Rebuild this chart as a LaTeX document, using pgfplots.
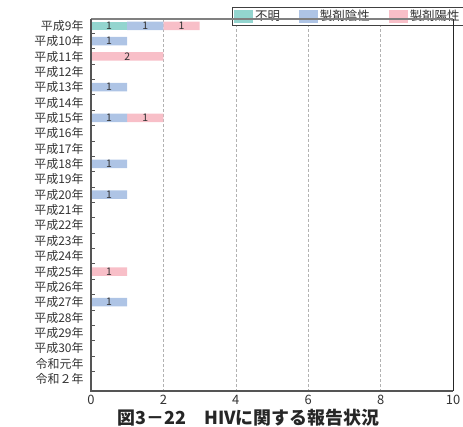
\documentclass[border=0pt]{standalone}
\usepackage{fontspec}
\setmainfont{Noto Sans CJK JP}
\usepackage{pgfplots}
\pgfplotsset{compat=1.18}
\usepackage{pgfplotstable}
\definecolor{cTeal}{HTML}{93D5CF}
\definecolor{cBlue}{HTML}{AEC4E5}
\definecolor{cPink}{HTML}{F8BFC8}
\definecolor{cAxis}{HTML}{555555}
\definecolor{cText}{HTML}{333333}

% counts per year (row index 0 = 平成9年)
\pgfplotstableread{
y a b c
0 1 1 1
1 0 1 0
2 0 0 2
4 0 1 0
6 0 1 1
9 0 1 0
11 0 1 0
16 0 0 1
18 0 1 0
}\datatable

% value labels, centred in their segments
\pgfplotstableread{
x y t
0.5 0 1
1.5 0 1
2.5 0 1
0.5 1 1
1.0 2 2
0.5 4 1
0.5 6 1
1.5 6 1
0.5 9 1
0.5 11 1
0.5 16 1
0.5 18 1
}\labeltable

\pgfplotsset{common/.style={
  scale only axis, width=362bp, height=372bp,
  xmin=0, xmax=10, ymin=-0.44, ymax=23.78, y dir=reverse}}

\begin{document}
\begin{tikzpicture}
\useasboundingbox (-91bp,-36bp) rectangle (372bp,391bp);
\begin{axis}[
  name=ax, common,
  xbar stacked, bar width=8.5bp,
  xtick={0,2,...,10},
  ytick={0,...,23},
  yticklabels={平成9年,平成10年,平成11年,平成12年,平成13年,平成14年,平成15年,平成16年,平成17年,平成18年,平成19年,平成20年,平成21年,平成22年,平成23年,平成24年,平成25年,平成26年,平成27年,平成28年,平成29年,平成30年,令和元年,令和２年},
  minor ytick={0.5,1.5,...,22.5},
  major tick length=0pt, minor tick length=4bp,
  tick align=inside, ytick pos=left, xtick pos=bottom,
  minor tick style={cAxis, line width=0.8bp},
  axis line style={draw=none},
  xmajorgrids, grid style={gray!60, dash pattern=on 3bp off 2bp, line width=0.6bp},
  yticklabel style={font=\fontsize{12}{12}\selectfont, text=cText, xshift=-4bp},
  xticklabel style={font=\fontsize{13}{13}\selectfont, text=cText, yshift=-1bp},
  /pgf/number format/assume math mode=true,
  xlabel={\bfseries 図3－22　HIVに関する報告状況},
  xlabel style={font=\fontsize{18}{18}\selectfont, text=black!85, xshift=-23.5bp, yshift=3bp},
  legend style={at={(1,1)}, anchor=north east, xshift=11bp, yshift=12bp,
    draw=black!75, line width=0.8bp, font=\fontsize{12.5}{12.5}\selectfont, text=cText,
    inner xsep=2bp, inner ysep=1bp, legend columns=3,
    /tikz/every even column/.append style={column sep=17bp}},
  legend image code/.code={\fill[#1] (0bp,-6.5bp) rectangle (19bp,6.5bp);},
]
\addplot[fill=cTeal, draw=none] table[x=a, y=y] {\datatable};
\addplot[fill=cBlue, draw=none] table[x=b, y=y] {\datatable};
\addplot[fill=cPink, draw=none] table[x=c, y=y] {\datatable};
\legend{不明,製剤陰性,製剤陽性}
\end{axis}
\begin{axis}[common, hide axis]
\addplot[draw=none, mark=none, point meta=explicit symbolic, nodes near coords,
  every node near coord/.style={anchor=center, font=\fontsize{10.5}{10.5}\selectfont, text=cText}]
  table[x=x, y=y, meta=t] {\labeltable};
\end{axis}
\draw[black!50, line width=1.1bp] (ax.north west) -- (ax.north east);
\draw[black!85, line width=0.8bp] (ax.north east) -- (ax.south east);
\draw[cAxis, line width=1.6bp] (ax.north west) -- (ax.south west) -- (ax.south east);
\end{tikzpicture}
\end{document}
